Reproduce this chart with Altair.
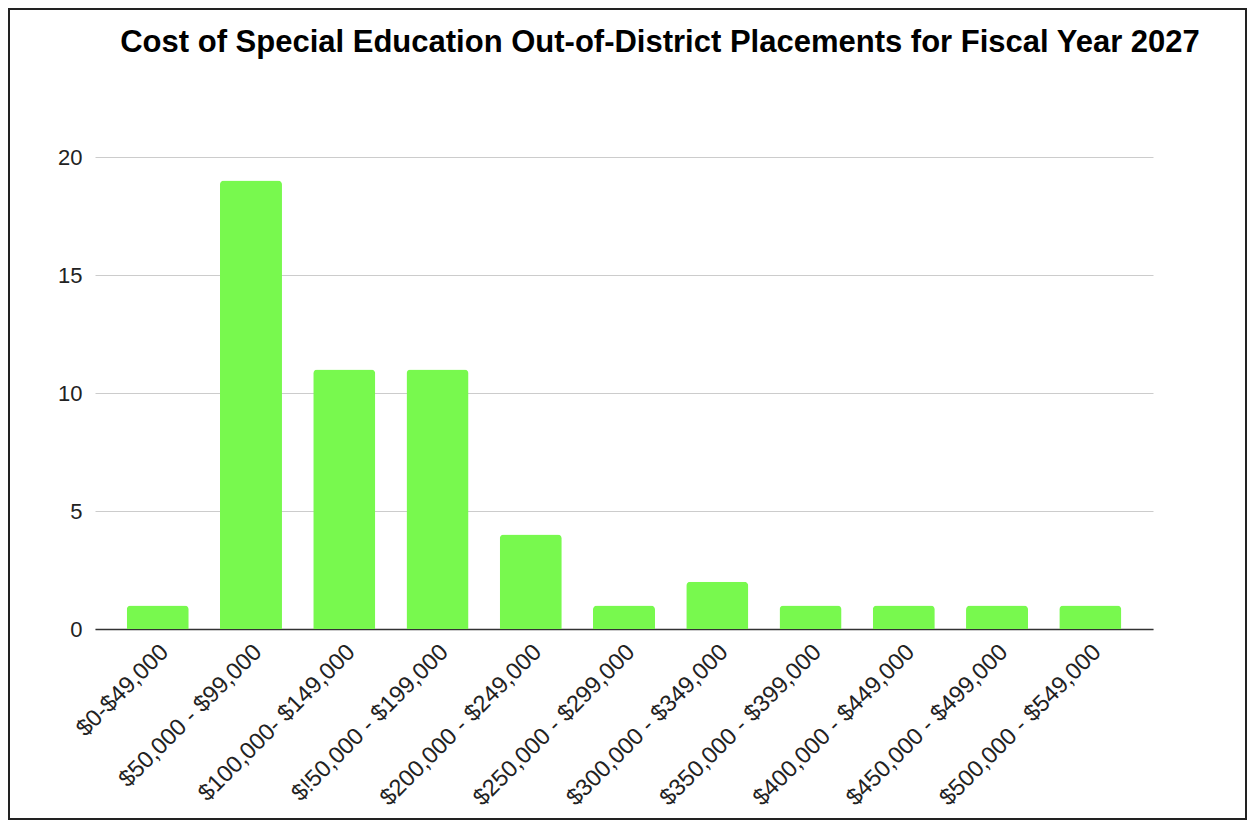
import altair as alt
import pandas as pd

categories = [
    "$0-$49,000",
    "$50,000 - $99,000",
    "$100,000- $149,000",
    "$!50,000 - $199,000",
    "$200,000 - $249,000",
    "$250,000 - $299,000",
    "$300,000 - $349,000",
    "$350,000 - $399,000",
    "$400,000 - $449,000",
    "$450,000 - $499,000",
    "$500,000 - $549,000",
]
counts = [1, 19, 11, 11, 4, 1, 2, 1, 1, 1, 1]
y_ticks = [0, 5, 10, 15, 20]
title_text = "Cost of Special Education Out-of-District Placements for Fiscal Year 2027"

df = pd.DataFrame({"range": categories, "count": counts})

W, H = 1058, 472
FONT = "Liberation Sans"

bars = alt.Chart(df).mark_bar(
    color="#78F94E", cornerRadiusTopLeft=4, cornerRadiusTopRight=4
).encode(
    x=alt.X(
        "range:N",
        sort=categories,
        scale=alt.Scale(paddingInner=0.335, paddingOuter=0.34),
        axis=alt.Axis(
            title=None,
            labelAngle=-45,
            labelAlign="right",
            labelBaseline="middle",
            labelPadding=19,
            labelOffset=7,
            labelFontSize=23.5,
            labelFont=FONT,
            labelColor="#222222",
            ticks=False,
            domainColor="#333333",
            domainWidth=1.5,
            labelLimit=400,
        ),
    ),
    y=alt.Y(
        "count:Q",
        scale=alt.Scale(domain=[0, 20], nice=False),
        axis=alt.Axis(
            title=None,
            values=y_ticks,
            grid=True,
            gridColor="#cccccc",
            gridWidth=1,
            domain=False,
            ticks=False,
            labelPadding=13,
            labelFontSize=22,
            labelFont=FONT,
            labelColor="#222222",
        ),
    ),
)

border = alt.Chart(pd.DataFrame({"b": [0]})).mark_rect(
    fill="transparent", stroke="#222222", strokeWidth=2
).encode(
    x=alt.value(-86), x2=alt.value(1151), y=alt.value(-148), y2=alt.value(662)
)

chart = alt.layer(bars, border).properties(
    width=W,
    height=H,
    autosize=alt.AutoSizeParams(type="none"),
    padding={"left": 87, "top": 149, "right": 94, "bottom": 191},
    title=alt.TitleParams(
        text=title_text,
        fontSize=31,
        fontWeight="bold",
        font=FONT,
        color="#000000",
        anchor="middle",
        frame="group",
        dx=36,
        baseline="alphabetic",
        offset=-75,
    ),
).configure_view(strokeWidth=0)

chart.save("out.html", embed_options={"renderer": "svg", "actions": False})
